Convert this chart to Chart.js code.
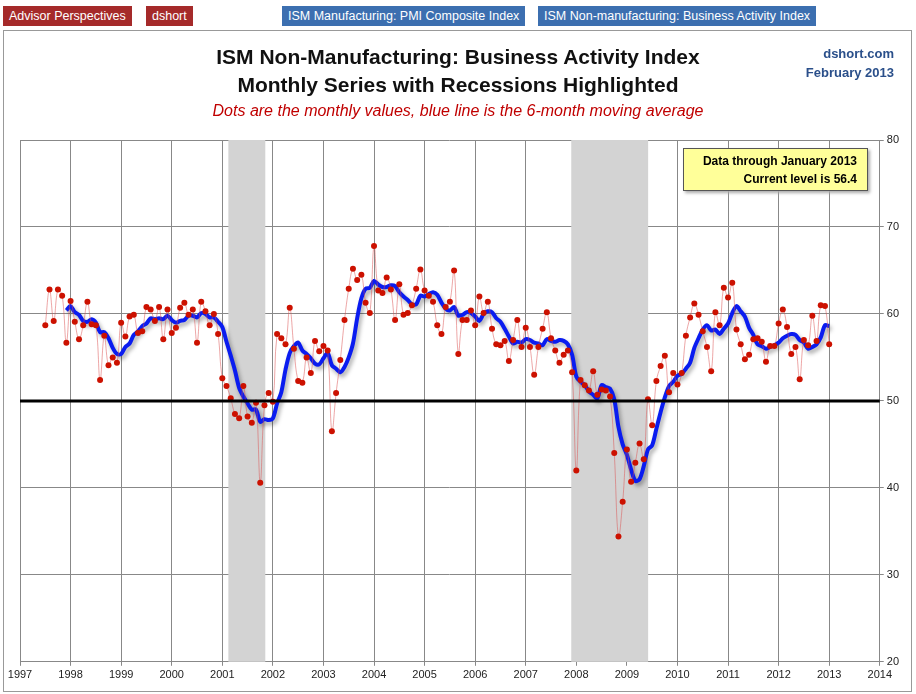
<!DOCTYPE html>
<html><head><meta charset="utf-8">
<script src="https://cdn.jsdelivr.net/npm/chart.js@4"></script>
<style>
body{margin:0;background:#fff;font-family:"Liberation Sans",Arial,sans-serif;}
#wrap{position:relative;width:916px;height:694px;overflow:hidden;}
#frame{position:absolute;left:3px;top:30px;width:907px;height:660px;border:1px solid #999;}
canvas{position:absolute;left:0;top:0;}
.tag{position:absolute;top:6px;height:20px;line-height:20px;color:#fff;font-size:12.5px;padding:0 6px;}
.t{position:absolute;left:0;width:916px;text-align:center;}
#note{position:absolute;left:683px;top:148px;width:185px;height:43px;background:#ffff99;border:1px solid #555;font-size:12px;font-weight:bold;text-align:right;box-sizing:border-box;padding:3px 10px;line-height:18px;box-shadow:2px 2px 3px #aaa;}
</style></head><body>
<div id="wrap">
<div id="frame"></div>
<canvas id="c" width="916" height="694"></canvas>
<div class="tag" style="left:3px;background:#a52a2a;">Advisor Perspectives</div>
<div class="tag" style="left:146px;background:#a52a2a;">dshort</div>
<div class="tag" style="left:282px;background:#3c6fb0;">ISM Manufacturing: PMI Composite Index</div>
<div class="tag" style="left:538px;background:#3c6fb0;">ISM Non-manufacturing: Business Activity Index</div>
<div class="t" style="top:45px;font-size:21px;font-weight:bold;color:#111;">ISM Non-Manufacturing: Business Activity Index</div>
<div class="t" style="top:73px;font-size:21px;font-weight:bold;color:#111;">Monthly Series with Recessions Highlighted</div>
<div class="t" style="top:102px;font-size:16px;font-style:italic;color:#c00000;">Dots are the monthly values, blue line is the 6-month moving average</div>
<div style="position:absolute;right:22px;top:44px;text-align:right;color:#2a4f8a;font-weight:bold;font-size:13px;line-height:19px;">dshort.com<br>February 2013</div>
<div id="note">Data through January 2013<br>Current level is 56.4</div>
</div>
<script>
const startYear = 1997, startMonth = 7; // Jul 1997
const monthly = [
58.7,62.8,59.2,62.8,62.1,56.7,
61.5,59.1,57.1,58.7,61.4,58.8,58.7,52.4,57.5,54.1,55.0,54.4,
59.0,57.4,59.7,59.9,57.8,58.0,60.8,60.5,59.2,60.8,57.1,60.5,
57.8,58.4,60.7,61.3,59.9,60.5,56.7,61.4,60.3,58.7,60.0,57.7,
52.6,51.7,50.3,48.5,48.0,51.7,48.2,47.5,49.8,40.6,49.5,50.9,
49.9,57.7,57.2,56.5,60.7,56.0,52.3,52.1,55.0,53.2,56.9,55.7,
56.3,55.8,46.5,50.9,54.7,59.3,62.9,65.2,63.9,64.5,61.3,60.1,
67.8,62.7,62.4,64.2,62.8,59.3,63.4,59.9,60.1,61.0,62.9,65.1,
62.7,62.1,61.4,58.7,57.7,60.8,61.4,65.0,55.4,59.3,59.3,60.4,
58.7,62.0,60.1,61.4,58.3,56.5,56.4,56.9,54.6,57.0,59.3,56.2,
58.4,56.2,53.0,56.2,58.3,60.2,57.2,55.8,54.4,55.3,55.8,53.3,
42.0,52.4,51.8,51.2,53.4,50.7,51.3,51.2,50.5,44.0,34.4,38.4,
44.4,40.7,42.9,45.1,43.3,50.2,47.2,52.3,54.0,55.2,51.0,53.2,
51.9,53.2,57.5,59.6,61.2,59.9,58.0,56.2,53.4,60.2,58.7,63.0,
61.9,63.6,58.2,56.5,54.8,55.3,57.1,57.2,56.8,54.5,56.3,56.3,
58.9,60.5,58.5,55.4,56.2,52.5,57.0,56.4,59.8,56.9,61.0,60.9,
56.5];
// 6-month moving average, starting Dec 1997
const maStart = 5;
const movingAvg = [
60.4,
60.9,60.2,59.9,59.2,59.1,59.4,59.0,57.9,57.9,57.2,56.1,55.4,
55.4,56.2,56.6,57.6,58.0,58.6,58.9,59.5,59.4,59.5,59.4,59.8,
59.3,59.0,59.2,59.3,59.8,59.8,59.6,60.1,60.0,59.6,59.6,59.1,
58.5,56.8,55.2,53.5,51.5,50.5,49.7,49.0,49.0,47.6,47.9,47.8,
48.0,49.7,51.0,53.6,55.5,56.3,56.7,55.8,55.4,54.9,54.3,54.2,
54.9,55.5,54.1,53.7,53.3,53.9,55.0,56.6,59.5,61.8,62.9,63.0,
63.8,63.4,63.1,63.1,63.3,63.2,62.5,62.0,61.6,61.1,61.1,62.1,
62.0,62.3,62.5,62.2,61.3,60.6,60.4,60.8,59.8,59.9,60.2,60.1,
59.7,59.2,60.0,60.3,60.2,59.5,59.1,58.3,57.4,56.6,56.8,56.7,
57.1,57.0,56.7,56.6,56.4,57.1,56.9,56.8,57.0,56.9,56.5,55.3,
52.8,52.2,51.8,51.1,50.7,50.3,51.8,51.6,51.4,50.2,47.0,45.0,
43.8,42.1,40.8,41.0,42.5,44.4,44.9,46.8,48.7,50.4,51.7,52.2,
52.9,53.1,53.7,54.4,56.1,57.2,58.2,58.7,58.1,58.2,57.7,58.3,
58.9,60.1,60.9,60.3,59.7,58.4,57.6,56.5,56.3,56.0,56.2,56.4,
56.7,57.2,57.5,57.7,57.6,57.0,56.7,56.0,56.2,56.5,57.3,58.7,
58.6];
const yearTicks = [1997,1998,1999,2000,2001,2002,2003,2004,2005,2006,2007,2008,2009,2010,2011,2012,2013,2014];
const yTicks = [20,30,40,50,60,70,80];
const recessions = [[2001.12, 2001.85],[2007.9, 2009.42]];
const refLevel = 50;

function t(i){return startYear + (startMonth-1+i)/12;}
const dots = monthly.map((v,i)=>({x:t(i),y:v}));
const ma = movingAvg.map((v,i)=>({x:t(i+maStart),y:v}));

const bg = {id:'bg',
 beforeDatasetsDraw(ch){const {ctx,chartArea:a,scales:{x,y}}=ch;ctx.save();ctx.fillStyle='#d3d3d3';
  recessions.forEach(r=>{const x0=x.getPixelForValue(r[0]),x1=x.getPixelForValue(r[1]);ctx.fillRect(x0,a.top,x1-x0,a.bottom-a.top);});
  ctx.restore();},
 afterDatasetsDraw(ch){const {ctx,chartArea:a,scales:{y}}=ch;ctx.save();ctx.strokeStyle='#000';ctx.lineWidth=3;
  const yy=y.getPixelForValue(refLevel);ctx.beginPath();ctx.moveTo(a.left,yy);ctx.lineTo(a.right,yy);ctx.stroke();ctx.restore();}
};
const shadow = {id:'shadow',
 beforeDatasetDraw(ch,args){if(args.index===1){ch.ctx.save();ch.ctx.shadowColor='rgba(0,0,0,0.35)';ch.ctx.shadowBlur=4;ch.ctx.shadowOffsetX=2;ch.ctx.shadowOffsetY=3;}},
 afterDatasetDraw(ch,args){if(args.index===1)ch.ctx.restore();}
};
new Chart(document.getElementById('c'),{
 type:'line',
 data:{datasets:[
  {data:dots,borderColor:'rgba(220,80,80,0.5)',borderWidth:1,tension:0.4,pointRadius:3,pointBackgroundColor:'#cc1100',pointBorderWidth:0},
  {data:ma,borderColor:'#0a1cf0',borderWidth:4,tension:0.3,pointRadius:0}
 ]},
 plugins:[bg,shadow],
 options:{responsive:false,animation:false,
  layout:{padding:{top:140,left:20,right:14,bottom:9}},
  plugins:{legend:{display:false},tooltip:{enabled:false}},
  scales:{
   x:{type:'linear',min:1997,max:2014,afterBuildTicks(s){s.ticks=yearTicks.map(v=>({value:v}));},
      grid:{color:'#888',lineWidth:1,drawTicks:true,tickLength:4},border:{color:'#888'},
      ticks:{color:'#222',font:{size:11,family:'"Liberation Sans",Arial'},maxRotation:0,autoSkip:false,callback:v=>String(v)}},
   y:{position:'right',min:20,max:80,afterBuildTicks(s){s.ticks=yTicks.map(v=>({value:v}));},
      grid:{color:'#888',lineWidth:1,tickLength:4},border:{color:'#888'},
      ticks:{color:'#222',font:{size:11,family:'"Liberation Sans",Arial'}}}
  }}
});
</script>
</body></html>
